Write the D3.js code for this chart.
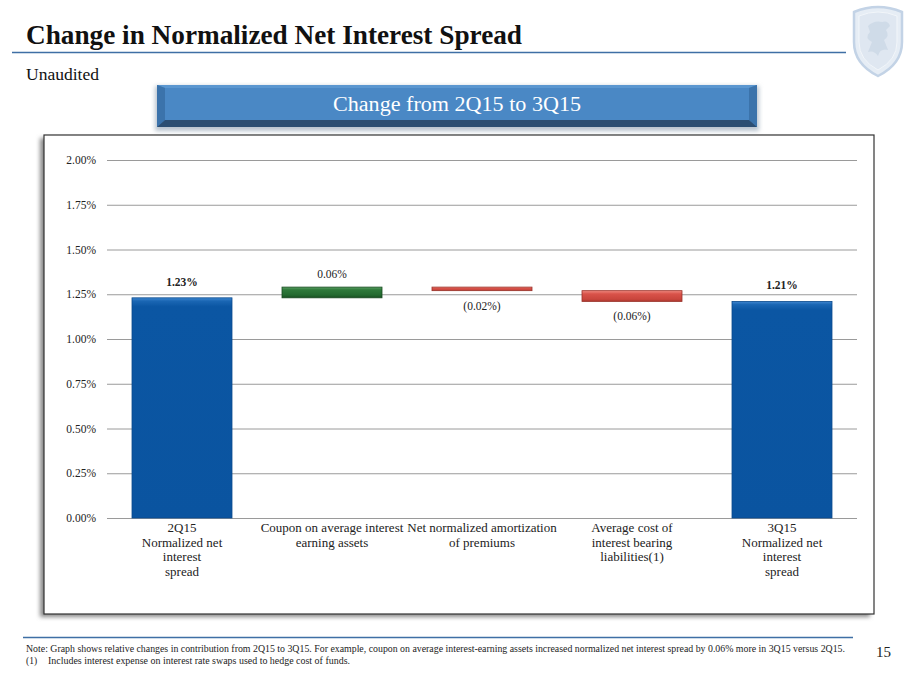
<!DOCTYPE html>
<html><head><meta charset="utf-8">
<script src="https://cdn.jsdelivr.net/npm/d3@7/dist/d3.min.js"></script>
<style>
html,body{margin:0;padding:0;background:#fff;}
svg{display:block;}
text{font-family:"Palatino Linotype","Book Antiqua",Palatino,"Liberation Serif","DejaVu Serif",serif;}
</style></head><body>
<svg id="c" width="920" height="690"></svg>
<script>
// ---- data ----
const categories = [
  ["2Q15","Normalized net","interest","spread"],
  ["Coupon on average interest","earning assets"],
  ["Net normalized amortization","of premiums"],
  ["Average cost of","interest bearing","liabilities(1)"],
  ["3Q15","Normalized net","interest","spread"]
];
const values = [1.23, 0.06, -0.02, -0.06, 1.21];
const kinds = ["total","delta","delta","delta","total"];
const valueLabels = ["1.23%","0.06%","(0.02%)","(0.06%)","1.21%"];
const yTicks = [0, 0.25, 0.5, 0.75, 1.0, 1.25, 1.5, 1.75, 2.0];
const title = "Change in Normalized Net Interest Spread";
const subtitle = "Unaudited";
const bannerText = "Change from 2Q15 to 3Q15";
const notes = [
  "Note:  Graph shows relative changes in contribution from 2Q15 to 3Q15.  For example, coupon on average interest-earning assets increased normalized net interest spread by 0.06% more in 3Q15 versus 2Q15.",
  "Includes interest expense on interest rate swaps used to hedge cost of funds."
];
const pageNumber = "15";

const svg = d3.select("#c");
const defs = svg.append("defs");

function grad(id, stops){
  const g = defs.append("linearGradient").attr("id",id).attr("x1",0).attr("y1",0).attr("x2",0).attr("y2",1);
  stops.forEach(s=>g.append("stop").attr("offset",s[0]).attr("stop-color",s[1]));
}
grad("gBlue",[[0,"#3f86d0"],[0.015,"#1a66b3"],[0.04,"#0b56a3"],[1,"#0a54a0"]]);
grad("gGreen",[[0,"#5aa064"],[0.25,"#2f7a3b"],[0.75,"#236a2f"],[1,"#174d20"]]);
grad("gRed",[[0,"#f08a80"],[0.3,"#d9534a"],[0.8,"#c9463d"],[1,"#a8352d"]]);

const blur = defs.append("filter").attr("id","blur").attr("x","-10%").attr("y","-10%").attr("width","120%").attr("height","120%");
blur.append("feGaussianBlur").attr("stdDeviation",2);

// ---- title ----
svg.append("text").attr("x",26).attr("y",44).attr("font-size",27).attr("font-weight","bold")
  .attr("textLength",496).attr("lengthAdjust","spacingAndGlyphs")
  .attr("fill","#111").text(title);
svg.append("line").attr("x1",12).attr("x2",846).attr("y1",52.5).attr("y2",52.5)
  .attr("stroke","#3f6fa5").attr("stroke-width",1.5);
svg.append("text").attr("x",26).attr("y",80).attr("font-size",16.5).attr("fill","#111")
  .attr("textLength",73).attr("lengthAdjust","spacingAndGlyphs").text(subtitle);

// ---- logo (shield) ----
const logo = svg.append("g").attr("transform","translate(850,6)");
logo.append("path").attr("d","M4,6 Q28,-4 52,6 L52,36 Q52,58 28,70 Q4,58 4,36 Z")
  .attr("fill","#e6edf5").attr("stroke","#c3d3e6").attr("stroke-width",2.5);
logo.append("path").attr("d","M9,10 Q28,2 47,10 L47,36 Q47,54 28,64 Q9,54 9,36 Z")
  .attr("fill","#dfe7f1").attr("stroke","#f2f6fa").attr("stroke-width",1);
logo.append("path").attr("d","M18,20 Q24,14 32,16 Q38,14 40,20 L36,24 Q40,30 34,34 L38,44 Q30,42 28,50 Q24,44 18,46 L22,36 Q14,32 20,26 Z")
  .attr("fill","#cdd9e7").attr("opacity",0.9);

// ---- banner ----
const bx=157, by=85, bw=600, bh=42;
svg.append("rect").attr("x",bx-2).attr("y",by+1).attr("width",bw+4).attr("height",bh+3)
  .attr("fill","#b9c4cf").attr("filter","url(#blur)");
svg.append("rect").attr("x",bx).attr("y",by).attr("width",bw).attr("height",bh).attr("fill","#4a88c5");
svg.append("path").attr("d",`M${bx},${by} L${bx+bw},${by} L${bx+bw-8},${by+3} L${bx+8},${by+3} Z`).attr("fill","#5b97d0");
svg.append("path").attr("d",`M${bx},${by} L${bx+8},${by+3} L${bx+8},${by+bh-7} L${bx},${by+bh} Z`).attr("fill","#3b73ab");
svg.append("path").attr("d",`M${bx+bw},${by} L${bx+bw-8},${by+3} L${bx+bw-8},${by+bh-7} L${bx+bw},${by+bh} Z`).attr("fill","#3b73ab");
svg.append("path").attr("d",`M${bx},${by+bh} L${bx+8},${by+bh-7} L${bx+bw-8},${by+bh-7} L${bx+bw},${by+bh} Z`).attr("fill","#2c4e72");
svg.append("text").attr("x",bx+bw/2).attr("y",by+26).attr("text-anchor","middle")
  .attr("font-size",20).attr("fill","#fff")
  .attr("textLength",248).attr("lengthAdjust","spacingAndGlyphs").text(bannerText);

// ---- chart box ----
const box={x:44,y:135,w:830,h:479};
svg.append("rect").attr("x",box.x-4).attr("y",box.y+3).attr("width",box.w).attr("height",box.h)
  .attr("fill","#8a8a8a").attr("filter","url(#blur)");
svg.append("rect").attr("x",box.x).attr("y",box.y).attr("width",box.w).attr("height",box.h)
  .attr("fill","#fff").attr("stroke","#333").attr("stroke-width",1.2);

// ---- scales ----
const x = d3.scaleBand().domain(d3.range(values.length)).range([107,857]).paddingInner(1/3).paddingOuter(1/6);
const y = d3.scaleLinear().domain([0,2]).range([518,160]);

const g = svg.append("g");
const yAxis = d3.axisLeft(y).tickValues(yTicks).tickSize(-(857-107)).tickFormat(d=>d3.format(".2f")(d)+"%").tickPadding(11);
const ya = g.append("g").attr("transform","translate(107,0)").call(yAxis);
ya.select(".domain").remove();
ya.selectAll(".tick line").attr("stroke","#9a9a9a").attr("stroke-width",1);
ya.selectAll(".tick text").attr("font-size",11.5).attr("fill","#222")
  .attr("font-family",'"Palatino Linotype","Book Antiqua",Palatino,"Liberation Serif",serif');

let running=0;
const bars = values.map((v,i)=>{
  let lo,hi;
  if(kinds[i]==="total"){ lo=0; hi=v; running=v; }
  else { const s=running; running=s+v; lo=Math.min(s,running); hi=Math.max(s,running); }
  return {i,v,lo,hi,kind:kinds[i],label:valueLabels[i]};
});
const fillFor = b => b.kind==="total" ? "url(#gBlue)" : (b.v>=0 ? "url(#gGreen)" : "url(#gRed)");
const strokeFor = b => b.kind==="total" ? "#0a4a8c" : (b.v>=0 ? "#174a20" : "#9a3028");

svg.append("g").selectAll("rect").data(bars).join("rect")
  .attr("x",b=>x(b.i)).attr("width",x.bandwidth())
  .attr("y",b=>y(b.hi)).attr("height",b=>y(b.lo)-y(b.hi))
  .attr("fill",fillFor).attr("stroke",strokeFor).attr("stroke-width",0.8);

svg.append("g").selectAll("text").data(bars).join("text")
  .attr("x",b=>x(b.i)+x.bandwidth()/2)
  .attr("y",b=> b.kind==="total" ? y(b.hi)-12 : (b.v>=0 ? y(b.hi)-9 : y(b.lo)+19))
  .attr("text-anchor","middle").attr("font-size",11.5)
  .attr("font-weight",b=>b.kind==="total"?"bold":"normal").attr("fill","#222")
  .text(b=>b.label);

const cg = svg.append("g").selectAll("text").data(categories).join("text")
  .attr("text-anchor","middle").attr("font-size",13).attr("fill","#222");
cg.each(function(lines,i){
  const t=d3.select(this);
  lines.forEach((l,j)=>t.append("tspan").attr("x",x(i)+x.bandwidth()/2).attr("y",532+j*14.7).text(l));
});

// ---- footer ----
svg.append("line").attr("x1",23).attr("x2",853).attr("y1",637.5).attr("y2",637.5)
  .attr("stroke","#3f6fa5").attr("stroke-width",1.5);
svg.append("text").attr("x",26).attr("y",652).attr("font-size",9.5).attr("fill","#222")
  .attr("textLength",819).attr("lengthAdjust","spacingAndGlyphs").text(notes[0]);
svg.append("text").attr("x",26).attr("y",664).attr("font-size",9.5).attr("fill","#222").text("(1)");
svg.append("text").attr("x",48).attr("y",664).attr("font-size",9.5).attr("fill","#222")
  .attr("textLength",302).attr("lengthAdjust","spacingAndGlyphs").text(notes[1]);
svg.append("text").attr("x",876).attr("y",657).attr("font-size",15).attr("fill","#222").text(pageNumber);
</script>
</body></html>
